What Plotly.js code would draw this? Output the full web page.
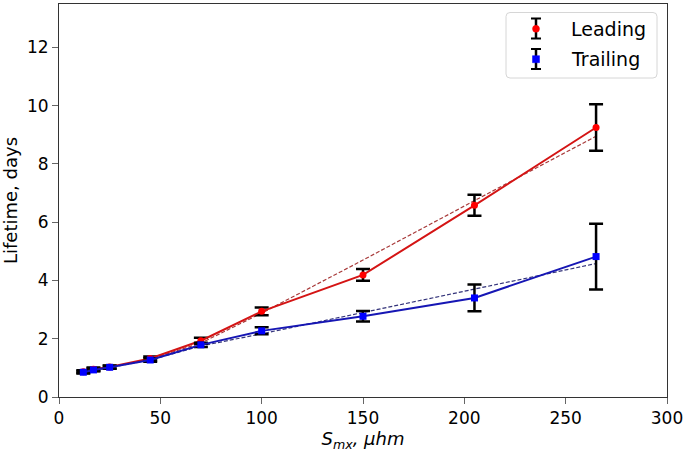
<!DOCTYPE html>
<html>
<head>
<meta charset="utf-8">
<script src="https://cdn.plot.ly/plotly-3.0.1.min.js"></script>
<style>html,body{margin:0;padding:0;background:#fff;}#chart{width:685px;height:452px;}</style>
</head>
<body>
<div id="chart"></div>
<script>
// ---- data ----
const smx = [12, 17, 25, 45, 70, 100, 150, 205, 265];
const leading = [0.87, 0.95, 1.03, 1.32, 1.93, 2.94, 4.19, 6.58, 9.25];
const leadingErr = [0.05, 0.06, 0.05, 0.07, 0.10, 0.13, 0.20, 0.36, 0.80];
const trailing = [0.85, 0.93, 1.02, 1.27, 1.79, 2.27, 2.77, 3.40, 4.82];
const trailingErr = [0.04, 0.05, 0.05, 0.06, 0.07, 0.12, 0.18, 0.46, 1.13];
const leadingFit = [0.87, 0.93, 1.02, 1.30, 1.85, 2.88, 4.70, 6.74, 8.95];
const trailingFit = [0.85, 0.92, 1.01, 1.27, 1.75, 2.17, 2.90, 3.70, 4.58];
const seriesNames = ['Leading', 'Trailing'];
const xTicks = [0, 50, 100, 150, 200, 250, 300];
const yTicks = [0, 2, 4, 6, 8, 10, 12];

const FONT = 'DejaVu Sans, sans-serif';

const traces = [
  {x: smx, y: leadingFit, mode: 'lines', line: {color: '#a83a3a', width: 1.2, dash: '4px,2px'}, showlegend: false, hoverinfo: 'skip'},
  {x: smx, y: trailingFit, mode: 'lines', line: {color: '#33337a', width: 1.2, dash: '4px,2px'}, showlegend: false, hoverinfo: 'skip'},
  {x: smx, y: leading, name: seriesNames[0], mode: 'lines+markers',
   line: {color: '#d41414', width: 2},
   marker: {color: '#ff0000', symbol: 'circle', size: 7},
   error_y: {type: 'data', array: leadingErr, visible: true, color: '#000', thickness: 2.5, width: 7},
   showlegend: false},
  {x: smx, y: trailing, name: seriesNames[1], mode: 'lines+markers',
   line: {color: '#1616b4', width: 2},
   marker: {color: '#0000ff', symbol: 'square', size: 7},
   error_y: {type: 'data', array: trailingErr, visible: true, color: '#000', thickness: 2.5, width: 7},
   showlegend: false}
];

// plot area geometry (px) for legend placement in paper units
const L = 59, R = 18, T = 4, B = 55, W = 685, H = 452;
const pw = W - L - R, ph = H - T - B;
const px = v => (v - L) / pw;
const py = v => (H - B - v) / ph;

const shapes = [];
// legend box with rounded corners
(function(){
  const x0 = px(506), x1 = px(657), y0 = py(78), y1 = py(12.5);
  const rx = 4 / pw, ry = 4 / ph;
  shapes.push({type: 'path', xref: 'paper', yref: 'paper',
    path: `M ${x0+rx} ${y1} L ${x1-rx} ${y1} Q ${x1} ${y1} ${x1} ${y1-ry} L ${x1} ${y0+ry} Q ${x1} ${y0} ${x1-rx} ${y0} L ${x0+rx} ${y0} Q ${x0} ${y0} ${x0} ${y0+ry} L ${x0} ${y1-ry} Q ${x0} ${y1} ${x0+rx} ${y1} Z`,
    line: {color: '#d6d6d6', width: 1}, fillcolor: 'rgba(255,255,255,0.8)'});
})();
const glyphX = 536;
const entries = [
  {top: 18.5, bot: 38.5, mid: 28.8, color: '#ff0000', type: 'circle'},
  {top: 49, bot: 69, mid: 59.2, color: '#0000ff', type: 'rect'}
];
entries.forEach(e => {
  shapes.push({type: 'line', xref: 'paper', yref: 'paper', x0: px(glyphX), x1: px(glyphX), y0: py(e.top), y1: py(e.bot), line: {color: '#000', width: 2.5}});
  shapes.push({type: 'line', xref: 'paper', yref: 'paper', x0: px(glyphX - 5), x1: px(glyphX + 5), y0: py(e.top), y1: py(e.top), line: {color: '#000', width: 2}});
  shapes.push({type: 'line', xref: 'paper', yref: 'paper', x0: px(glyphX - 5), x1: px(glyphX + 5), y0: py(e.bot), y1: py(e.bot), line: {color: '#000', width: 2}});
  shapes.push({type: e.type, xref: 'paper', yref: 'paper', x0: px(glyphX - 3.5), x1: px(glyphX + 3.5), y0: py(e.mid + 3.5), y1: py(e.mid - 3.5), fillcolor: e.color, line: {color: e.color, width: 0.5}});
});
const annotations = entries.map((e, i) => ({
  xref: 'paper', yref: 'paper', x: px(569), y: py(e.mid), xanchor: 'left', yanchor: 'middle',
  text: seriesNames[i], showarrow: false, font: {family: FONT, size: 19, color: '#000'}
}));

const axisCommon = {
  showgrid: false, zeroline: false, showline: true, mirror: true,
  linecolor: '#333', linewidth: 1, ticks: 'outside', ticklen: 6, tickwidth: 1, tickcolor: '#666',
  tickfont: {family: FONT, size: 17, color: '#000'}, tickmode: 'array'
};

const layout = {
  width: W, height: H,
  margin: {l: L, r: R, t: T, b: B, pad: 0},
  paper_bgcolor: '#fff', plot_bgcolor: '#fff',
  font: {family: FONT},
  showlegend: false,
  xaxis: Object.assign({}, axisCommon, {range: [0, 300], tickvals: xTicks, ticktext: xTicks.map(String),
    title: {text: '<i>S<sub>mx</sub>, μhm</i>', font: {family: FONT, size: 18, color: '#000'}, standoff: 5}}),
  yaxis: Object.assign({}, axisCommon, {range: [0, 13.49], tickvals: yTicks, ticktext: yTicks.map(String),
    title: {text: 'Lifetime, days', font: {family: FONT, size: 18, color: '#000'}, standoff: 8}}),
  shapes: shapes,
  annotations: annotations
};

Plotly.newPlot('chart', traces, layout, {staticPlot: true, displayModeBar: false});
</script>
</body>
</html>
